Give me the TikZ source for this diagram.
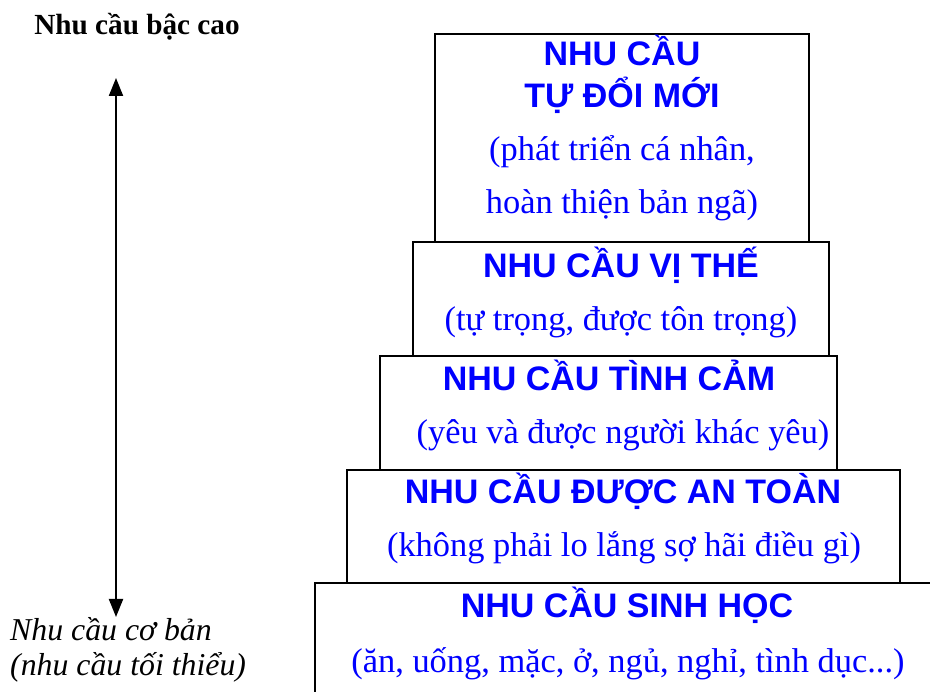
\documentclass[tikz,border=0pt]{standalone}
\usepackage{fontspec}
\setmainfont{Liberation Serif}
\newfontfamily\arialfont{Liberation Sans}
\usetikzlibrary{arrows.meta}
\definecolor{tblue}{RGB}{0,0,255}
\tikzset{
  level/.style={draw=black, line width=2pt, fill=white},
  ttl/.style={font=\arialfont\bfseries\fontsize{34}{40}\selectfont, text=tblue, anchor=base, inner sep=0pt},
  sub/.style={font=\fontsize{34.4}{40}\selectfont, text=tblue, anchor=base, inner sep=0pt},
  side/.style={font=\fontsize{29}{34}\selectfont, text=black, inner sep=0pt},
  axis/.style={line width=2pt, {Triangle[length=18pt,width=14pt]}-{Triangle[length=18pt,width=14pt]}}
}
\begin{document}
\begin{tikzpicture}[x=1pt,y=-1pt]
\useasboundingbox (0,0) rectangle (930,692);
\begin{scope}
\clip (0,0) rectangle (930,692);
% boxes
\draw[level] (435,34) rectangle (809,242);
\draw[level] (413,242) rectangle (829,356);
\draw[level] (380,356) rectangle (837,470);
\draw[level] (347,470) rectangle (900,583);
\draw[level] (315,583) rectangle (940,700);
\end{scope}
% box texts
\node[ttl] (t1a) at (622,66) {NHU CẦU};
\node[ttl] (t1b) at (622,108) {TỰ ĐỔI MỚI};
\node[sub] (s1a) at (622,161) {(phát triển cá nhân,};
\node[sub] (s1b) at (622,214) {hoàn thiện bản ngã)};
\node[ttl] (t2) at (621,278) {NHU CẦU VỊ THẾ};
\node[sub] (s2) at (621,331) {(tự trọng, được tôn trọng)};
\node[ttl] (t3) at (609,391) {NHU CẦU TÌNH CẢM};
\node[sub] (s3) at (623,444) {(yêu và được người khác yêu)};
\node[ttl] (t4) at (623,504) {NHU CẦU ĐƯỢC AN TOÀN};
\node[sub] (s4) at (624,557) {(không phải lo lắng sợ hãi điều gì)};
\node[ttl] (t5) at (627,618) {NHU CẦU SINH HỌC};
\node[sub] (s5) at (628,672) {(ăn, uống, mặc, ở, ngủ, nghỉ, tình dục...)};
% side labels
\node[side, font=\bfseries\fontsize{29.2}{34}\selectfont, anchor=base] (high) at (137,35) {Nhu cầu bậc cao};
\node[side, font=\itshape\fontsize{31.8}{36}\selectfont, anchor=base west] (low1) at (10,641) {Nhu cầu cơ bản};
\node[side, font=\itshape\fontsize{31.8}{36}\selectfont, anchor=base west] (low2) at (10,675) {(nhu cầu tối thiểu)};
\coordinate (top) at (116,78);
\coordinate (bot) at (116,617);
\draw[axis] (bot) -- (top);
\end{tikzpicture}
\end{document}
